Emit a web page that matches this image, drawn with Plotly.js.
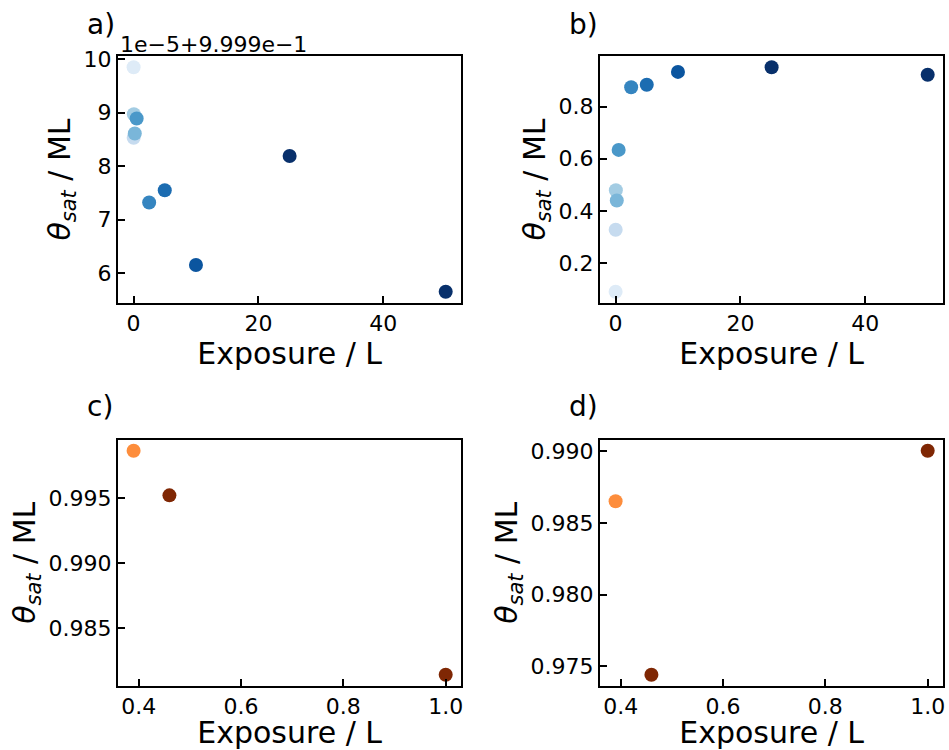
<!DOCTYPE html>
<html>
<head>
<meta charset="utf-8">
<script src="https://cdn.plot.ly/plotly-3.0.1.min.js"></script>
<style>html,body{margin:0;padding:0;background:#fff;}#chart{width:949px;height:750px;}</style>
</head>
<body>
<div id="chart"></div>
<script>
// ---------- data ----------
// Panels a) and b): exposure (L) and saturation coverage (ML)
var exposureAB = [0.01, 0.02, 0.05, 0.2, 0.5, 2.5, 5, 10, 25, 50];
var thetaA = [0.9999985, 0.9999853, 0.9999897, 0.9999861, 0.9999889, 0.9999732, 0.9999755, 0.9999615, 0.9999819, 0.9999565];
var thetaB = [0.090, 0.328, 0.479, 0.440, 0.634, 0.874, 0.884, 0.933, 0.951, 0.922];
// Panels c) and d)
var exposureCD = [0.39, 0.46, 1.0];
var thetaC = [0.99862, 0.99520, 0.98145];
var thetaD = [0.98652, 0.97442, 0.99005];
// tick labels (panel a uses an offset: value = 0.9999 + label * 1e-5)
var tickTextA = ["6", "7", "8", "9", "10"];
var tickValsA = [0.9999 + 6e-5, 0.9999 + 7e-5, 0.9999 + 8e-5, 0.9999 + 9e-5, 0.9999 + 10e-5];
var offsetTextA = "1e\u22125+9.999e\u22121";
var panelLabels = ["a)", "b)", "c)", "d)"];

// ---------- styles ----------
var blues = ["#deebf7", "#c6dbef", "#a3cce3", "#7ab6d9", "#4a98c9", "#3585c0", "#1c6cb1", "#0b559f", "#08306b", "#08306b"];
var oranges = ["#fd8d3c", "#7f2704", "#7f2704"];
var FONT = "DejaVu Sans";
var TICKSIZE = 22, LABELSIZE = 30;

function pad(arr) {
  var mn = Math.min.apply(null, arr), mx = Math.max.apply(null, arr);
  var d = (mx - mn) * 0.05;
  return [mn - d, mx + d];
}

function xax(domain, anchor, dtick, fmt, rng, standoff) {
  return {
    domain: domain, anchor: anchor, range: rng,
    showgrid: false, zeroline: false,
    showline: true, mirror: true, linecolor: "#000", linewidth: 2,
    ticks: "inside", ticklen: 7, tickwidth: 2, tickcolor: "#000",
    dtick: dtick, tick0: 0, tickformat: fmt,
    tickfont: {family: FONT, size: TICKSIZE, color: "#000"},
    title: {text: "Exposure / L", font: {family: FONT, size: LABELSIZE, color: "#000"}, standoff: standoff},
    automargin: false
  };
}
function yax(domain, anchor, extra) {
  var o = {
    domain: domain, anchor: anchor,
    showgrid: false, zeroline: false,
    showline: true, mirror: true, linecolor: "#000", linewidth: 2,
    ticks: "inside", ticklen: 7, tickwidth: 2, tickcolor: "#000",
    tickfont: {family: FONT, size: TICKSIZE, color: "#000"},
    title: {text: "<i>θ</i><sub><i>sat</i></sub> / ML", font: {family: FONT, size: LABELSIZE, color: "#000"}, standoff: 4},
    automargin: false
  };
  for (var k in extra) o[k] = extra[k];
  return o;
}

var W = 949, H = 750;
var dxL = [118 / W, 461.3 / W], dxR = [600 / W, 943.3 / W];
var dyT = [1 - 303 / H, 1 - 56 / H], dyB = [1 - 686 / H, 1 - 439.5 / H];

var mk = function (cols) { return {size: 14, color: cols, line: {width: 0}}; };
var traces = [
  {x: exposureAB, y: thetaA, xaxis: "x", yaxis: "y", mode: "markers", type: "scatter", marker: mk(blues), showlegend: false},
  {x: exposureAB, y: thetaB, xaxis: "x2", yaxis: "y2", mode: "markers", type: "scatter", marker: mk(blues), showlegend: false},
  {x: exposureCD, y: thetaC, xaxis: "x3", yaxis: "y3", mode: "markers", type: "scatter", marker: mk(oranges), showlegend: false},
  {x: exposureCD, y: thetaD, xaxis: "x4", yaxis: "y4", mode: "markers", type: "scatter", marker: mk(oranges), showlegend: false}
];

var labelPos = [[85, 25], [567, 25], [85, 406], [567, 406]];
var annotations = panelLabels.map(function (t, i) {
  return {text: t, xref: "paper", yref: "paper", x: labelPos[i][0] / W, y: 1 - labelPos[i][1] / H,
    xanchor: "left", yanchor: "middle", showarrow: false, font: {family: FONT, size: 28, color: "#000"}};
});
annotations.push({text: offsetTextA, xref: "paper", yref: "paper", x: 118 / W, y: 1 - 44.5 / H,
  xanchor: "left", yanchor: "middle", showarrow: false, font: {family: FONT, size: TICKSIZE, color: "#000"}});

var layout = {
  width: W, height: H,
  margin: {l: 0, r: 0, t: 0, b: 0},
  paper_bgcolor: "#fff", plot_bgcolor: "#fff",
  font: {family: FONT, color: "#000"},
  showlegend: false,
  xaxis: xax(dxL, "y", 20, "d", pad(exposureAB), 6),
  yaxis: yax(dyT, "x", {range: pad(thetaA), tickmode: "array", tickvals: tickValsA, ticktext: tickTextA}),
  xaxis2: xax(dxR, "y2", 20, "d", pad(exposureAB), 6),
  yaxis2: yax(dyT, "x2", {range: pad(thetaB), dtick: 0.2, tick0: 0, tickformat: ".1f"}),
  xaxis3: xax(dxL, "y3", 0.2, ".1f", pad(exposureCD), 8),
  yaxis3: yax(dyB, "x3", {range: pad(thetaC), dtick: 0.005, tick0: 0, tickformat: ".3f"}),
  xaxis4: xax(dxR, "y4", 0.2, ".1f", pad(exposureCD), 8),
  yaxis4: yax(dyB, "x4", {range: pad(thetaD), dtick: 0.005, tick0: 0, tickformat: ".3f"}),
  annotations: annotations
};

Plotly.newPlot("chart", traces, layout, {staticPlot: true, displayModeBar: false});
</script>
</body>
</html>
